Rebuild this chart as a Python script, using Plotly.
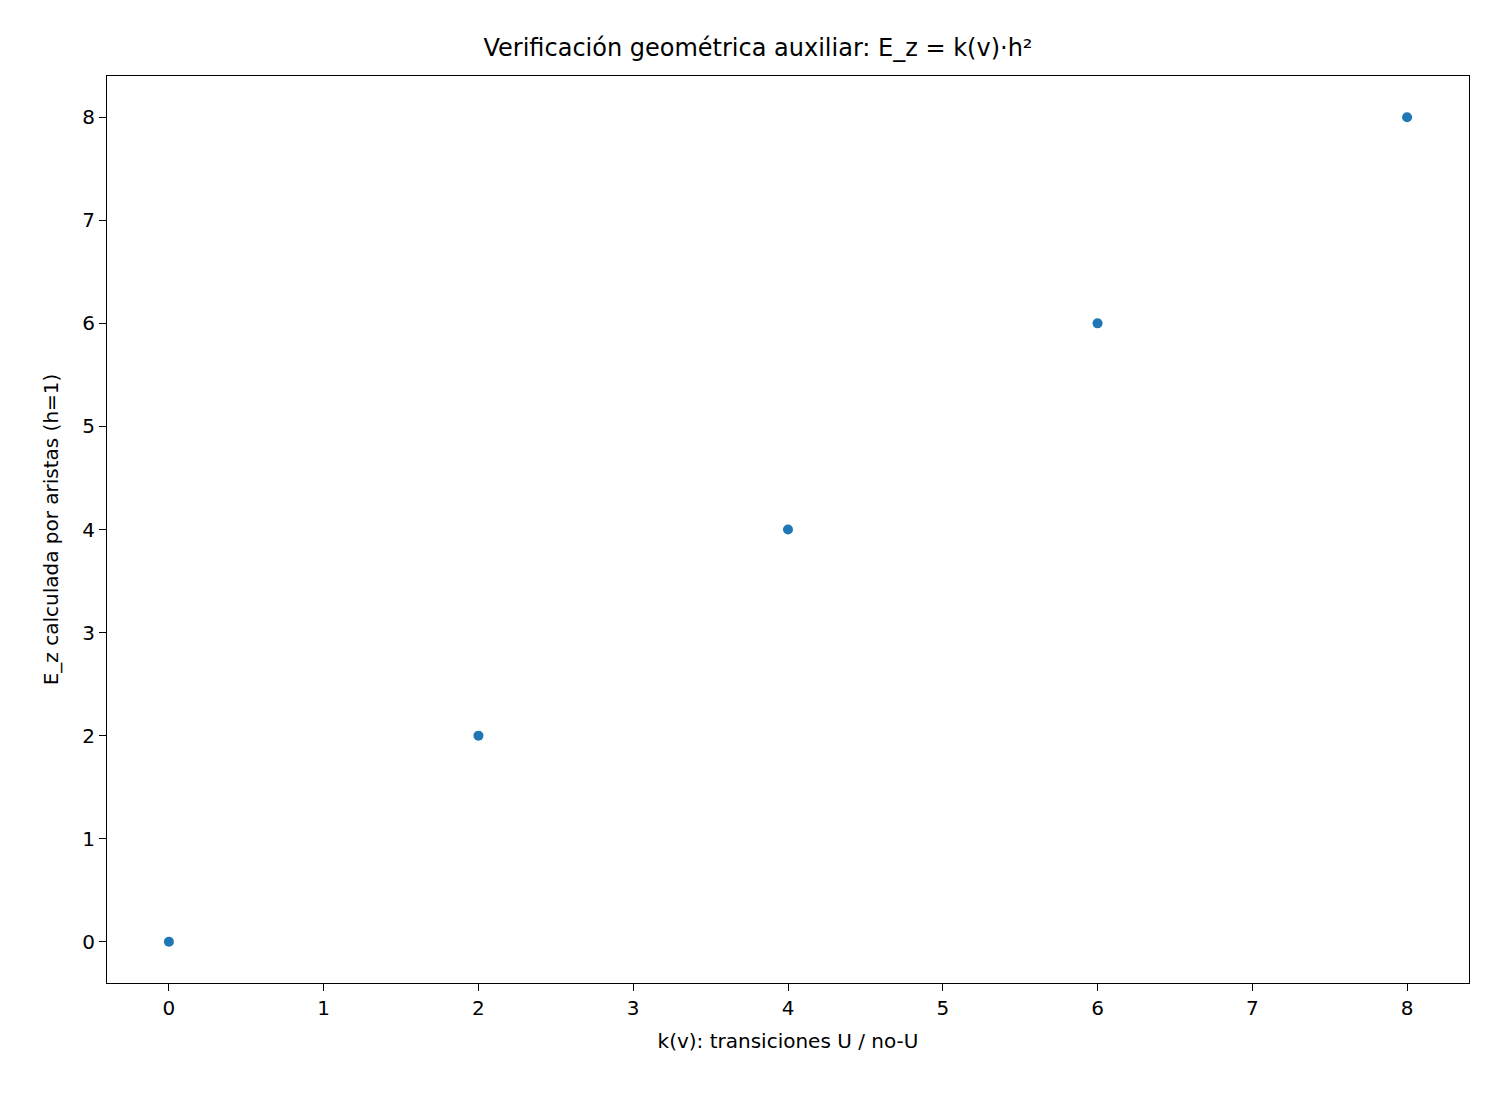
import plotly.graph_objects as go

k_vals = [0, 2, 4, 6, 8]
ez_vals = [0, 2, 4, 6, 8]

fig = go.Figure(go.Scatter(x=k_vals, y=ez_vals, mode="markers",
                           marker=dict(color="#1f77b4", size=10)))
ax = dict(showgrid=False, zeroline=False, showline=True, linecolor="black", mirror=True,
          ticks="outside", ticklen=7, tickcolor="black", dtick=1,
          tickfont=dict(size=20, color="black"))
fig.update_layout(
    width=1500, height=1100, plot_bgcolor="white", paper_bgcolor="white",
    font=dict(family="DejaVu Sans", color="black"),
    margin=dict(l=99, r=39, t=68, b=125),
    title=dict(text="Verificación geométrica auxiliar: E_z = k(v)·h²", x=0.5, xanchor="center",
               y=1 - 40/1100, yanchor="middle", font=dict(size=24)),
    xaxis=dict(ax, range=[-0.4, 8.4], title=dict(text="k(v): transiciones U / no-U", font=dict(size=20), standoff=14)),
    yaxis=dict(ax, range=[-0.4, 8.4], title=dict(text="E_z calculada por aristas (h=1)", font=dict(size=20), standoff=18)),
    showlegend=False,
)
fig.write_html("out.html")
